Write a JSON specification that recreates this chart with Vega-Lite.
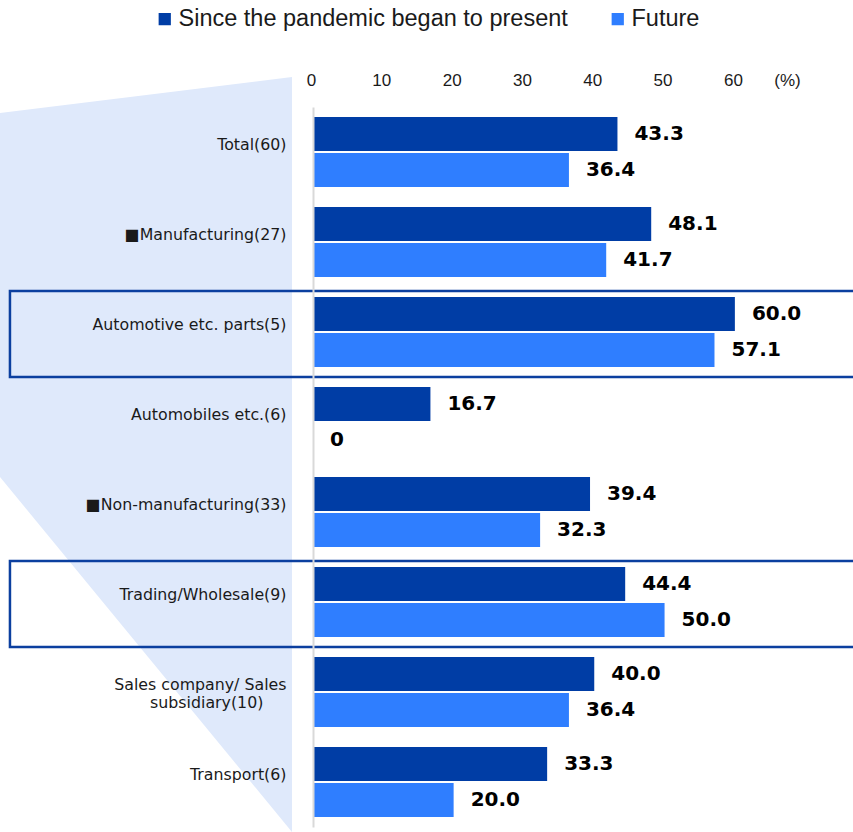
{
  "$schema": "https://vega.github.io/schema/vega-lite/v6.json",
  "width": 540,
  "height": 720,
  "autosize": {"type": "none"},
  "padding": {"left": 313, "top": 107, "right": 0, "bottom": 5},
  "background": "white",
  "config": {"view": {"stroke": null}, "font": "DejaVu Sans"},
  "datasets": {
    "bars": [
      {"category": "Total(60)", "series": "Since the pandemic began to present", "value": 43.3},
      {"category": "Total(60)", "series": "Future", "value": 36.4},
      {"category": "■Manufacturing(27)", "series": "Since the pandemic began to present", "value": 48.1},
      {"category": "■Manufacturing(27)", "series": "Future", "value": 41.7},
      {"category": "Automotive etc. parts(5)", "series": "Since the pandemic began to present", "value": 60.0},
      {"category": "Automotive etc. parts(5)", "series": "Future", "value": 57.1},
      {"category": "Automobiles etc.(6)", "series": "Since the pandemic began to present", "value": 16.7},
      {"category": "Automobiles etc.(6)", "series": "Future", "value": 0},
      {"category": "■Non-manufacturing(33)", "series": "Since the pandemic began to present", "value": 39.4},
      {"category": "■Non-manufacturing(33)", "series": "Future", "value": 32.3},
      {"category": "Trading/Wholesale(9)", "series": "Since the pandemic began to present", "value": 44.4},
      {"category": "Trading/Wholesale(9)", "series": "Future", "value": 50.0},
      {"category": "Sales company/ Sales subsidiary(10)", "series": "Since the pandemic began to present", "value": 40.0},
      {"category": "Sales company/ Sales subsidiary(10)", "series": "Future", "value": 36.4},
      {"category": "Transport(6)", "series": "Since the pandemic began to present", "value": 33.3},
      {"category": "Transport(6)", "series": "Future", "value": 20.0}
    ],
    "shape": [
      {"value": -44.52, "top": 6, "bottom": 370},
      {"value": -2.99, "top": -30, "bottom": 725}
    ],
    "boxes": [
      {"category": "Automotive etc. parts(5)", "value": -43.1, "end": 80},
      {"category": "Trading/Wholesale(9)", "value": -43.1, "end": 80}
    ]
  },
  "encoding": {
    "x": {
      "field": "value",
      "type": "quantitative",
      "scale": {"domain": [0, 76.8], "nice": false, "zero": false},
      "axis": {
        "orient": "top",
        "title": null,
        "values": [0, 10, 20, 30, 40, 50, 60, 67.7],
        "labelExpr": "datum.value > 65 ? '(%)' : datum.label",
        "labelFlush": false,
        "labelOffset": -2,
        "domain": false,
        "ticks": false,
        "grid": false,
        "labelFont": "Liberation Sans",
        "labelFontSize": 17,
        "labelColor": "#1a1a1a",
        "labelPadding": 18
      }
    }
  },
  "layer": [
    {
      "data": {"name": "shape"},
      "mark": {"type": "area", "color": "#DFE9FB", "clip": false, "orient": "vertical"},
      "encoding": {
        "y": {
          "field": "top",
          "type": "quantitative",
          "scale": {"domain": [0, 720], "reverse": true, "nice": false, "zero": false},
          "axis": null
        },
        "y2": {"field": "bottom"}
      }
    },
    {
      "encoding": {
        "y": {
          "field": "category",
          "type": "nominal",
          "sort": null,
          "scale": {
            "domain": ["Total(60)", "■Manufacturing(27)", "Automotive etc. parts(5)", "Automobiles etc.(6)", "■Non-manufacturing(33)", "Trading/Wholesale(9)", "Sales company/ Sales subsidiary(10)", "Transport(6)"],
            "paddingInner": 0.2222,
            "paddingOuter": 0.1111
          },
          "axis": {
            "title": null,
            "orient": "left",
            "zindex": 1,
            "ticks": false,
            "domainColor": "#D9D9D9",
            "domainWidth": 2,
            "labelFont": "DejaVu Sans",
            "labelFontSize": 15.8,
            "labelColor": "#1a1a1a",
            "labelPadding": 27,
            "labelOffset": -7,
            "labelLimit": 320,
            "labelLineHeight": 18,
            "labelExpr": "datum.value == 'Sales company/ Sales subsidiary(10)' ? ['Sales company/ Sales', 'subsidiary(10)\u2800\u2800'] : datum.label"
          }
        }
      },
      "layer": [
        {
          "data": {"name": "boxes"},
          "mark": {"type": "bar", "fill": null, "fillOpacity": 0, "stroke": "#0B3F9F", "strokeWidth": 2.5, "height": {"band": 1.2286}, "yOffset": 2, "clip": false},
          "encoding": {"x2": {"field": "end"}}
        },
        {
          "data": {"name": "bars"},
          "mark": {"type": "bar", "clip": false},
          "encoding": {
            "yOffset": {
              "field": "series",
              "type": "nominal",
              "sort": ["Since the pandemic began to present", "Future"],
              "scale": {"paddingInner": 0.056, "paddingOuter": 0}
            },
            "color": {
              "field": "series",
              "type": "nominal",
              "sort": ["Since the pandemic began to present", "Future"],
              "scale": {"domain": ["Since the pandemic began to present", "Future"], "range": ["#003DA5", "#2F7EFF"]},
              "legend": {
                "title": null,
                "orient": "none",
                "direction": "horizontal",
                "legendX": -160,
                "legendY": -100,
                "padding": 0,
                "symbolType": "square",
                "symbolSize": 150,
                "symbolStrokeWidth": 0,
                "labelFont": "Liberation Sans",
                "labelFontSize": 23.5,
                "labelColor": "#1a1a1a",
                "labelOffset": 2,
                "columnPadding": 38,
                "labelLimit": 500
              }
            }
          }
        },
        {
          "data": {"name": "bars"},
          "mark": {"type": "text", "align": "left", "baseline": "middle", "dx": 17, "font": "DejaVu Sans", "fontSize": 20, "fontWeight": "bold", "color": "#000000", "clip": false},
          "encoding": {
            "yOffset": {
              "field": "series",
              "type": "nominal",
              "sort": ["Since the pandemic began to present", "Future"],
              "scale": {"paddingInner": 0.056, "paddingOuter": 0}
            },
            "text": {
              "condition": {"test": "datum.value === 0", "value": "0"},
              "field": "value",
              "type": "quantitative",
              "format": ".1f"
            }
          }
        }
      ]
    }
  ],
  "resolve": {"scale": {"y": "independent"}, "axis": {"y": "independent"}}
}
